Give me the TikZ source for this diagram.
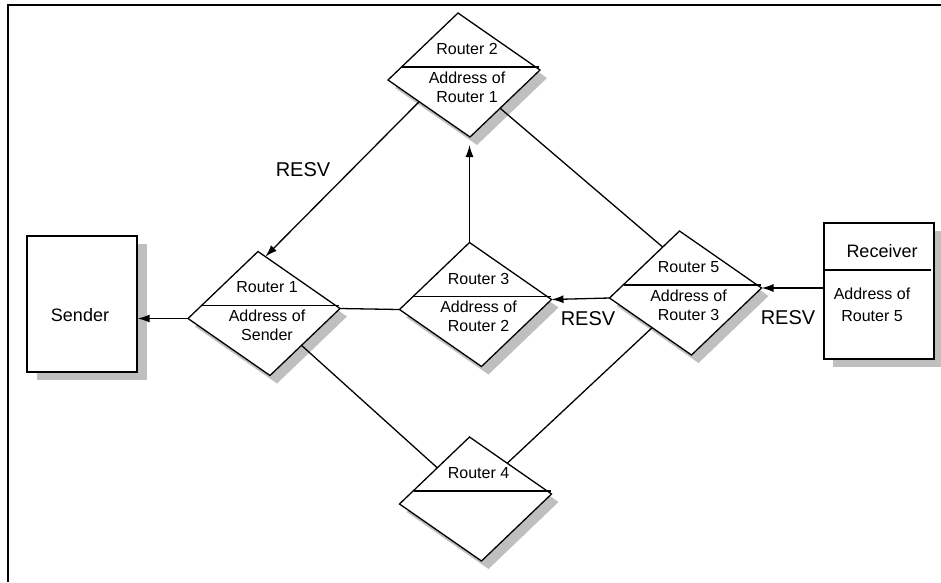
\documentclass[tikz,border=0pt]{standalone}
\usepackage{fontspec}
\setmainfont{Liberation Sans}
\usetikzlibrary{arrows.meta,calc}

\begin{document}
\begin{tikzpicture}[x=1pt,y=-1pt,>={Latex[length=12pt,width=8pt]},line width=1.3pt,
  shade/.style={fill=black!25,draw=none},
  lbl/.style={font=\fontsize{16}{19}\selectfont,align=center,inner sep=0pt},
  big/.style={font=\fontsize{18}{22}\selectfont,inner sep=0pt},
  resv/.style={font=\fontsize{20}{24}\selectfont,inner sep=0pt},
  hostbox/.style={draw,fill=white,inner sep=0pt,minimum width=110pt,minimum height=136pt}]
  \useasboundingbox (0,0) rectangle (941,582);
  \draw[line width=1.5pt] (941,5) -- (8,5) -- (8,582);
  \foreach \n/\cx/\cy in {1/264/313.5,2/464/75,3/475.5/304.5,4/475.5/499,5/685.5/293} {
    \fill[shade] (\cx+1,\cy-54) -- (\cx+83,\cy+3) -- (\cx+13,\cy+70) -- (\cx-69,\cy+13) -- cycle;
    \coordinate (r\n-t) at (\cx-6,\cy-62);
    \coordinate (r\n-r) at (\cx+76,\cy-5);
    \coordinate (r\n-b) at (\cx+6,\cy+62);
    \coordinate (r\n-l) at (\cx-76,\cy+5);
    \coordinate (r\n-sb) at (\cx+13,\cy+70);
    \filldraw[fill=white] (r\n-t) -- (r\n-r) -- (r\n-b) -- (r\n-l) -- cycle;
    \draw (\cx-62,\cy-8) -- (\cx+75,\cy-8);
    \node[lbl] (r\n-name) at (\cx+3,\cy-26) {Router \n};
  }
  \foreach \n/\src in {1/Sender,2/Router 1,3/Router 2,5/Router 3}
    \node[lbl] (r\n-addr) at ($(r\n-t)!0.5!(r\n-b)+(3,12)$) {Address of\\\src};

  \fill[shade] (37,244) rectangle (147,380);
  \node[hostbox] (sender) at (82,304) {};
  \node[big] (sendertxt) at (80,315) {Sender};
  \fill[shade] (833,231) rectangle (943,367);
  \node[hostbox] (rcv) at (879,291) {};
  \draw (824,270) -- (931,270);
  \node[big] (rcvtxt) at (882,251) {Receiver};
  \node[lbl,font=\fontsize{16}{22}\selectfont] (rcvaddr) at (872,305) {Address of\\Router 5};

  \draw[->] (r1-l) -- (r1-l -| sender.east);
  \draw[->] (rcv.west |- r5-r) -- (r5-r);
  \draw[->] (r5-l) -- (r3-r);
  \draw (r3-l) -- (r1-r);
  \draw[->] (r3-t) -- (r3-t |- r2-sb);
  \draw[->] ($(r2-l)!0.38!(r2-b)$) -- ($(r1-t)!0.09!(r1-r)$);
  \draw ($(r2-r)!0.57!(r2-b)$) -- ($(r5-t)!0.24!(r5-l)$);
  \draw ($(r1-r)!0.55!(r1-b)$) -- ($(r4-t)!0.46!(r4-l)$);
  \draw ($(r5-l)!0.52!(r5-b)$) -- ($(r4-t)!0.46!(r4-r)$);

  \node[resv] (resv1) at (303,170) {RESV};
  \node[resv] (resv2) at (588,319) {RESV};
  \node[resv] (resv3) at (788,318) {RESV};
\end{tikzpicture}
\end{document}
